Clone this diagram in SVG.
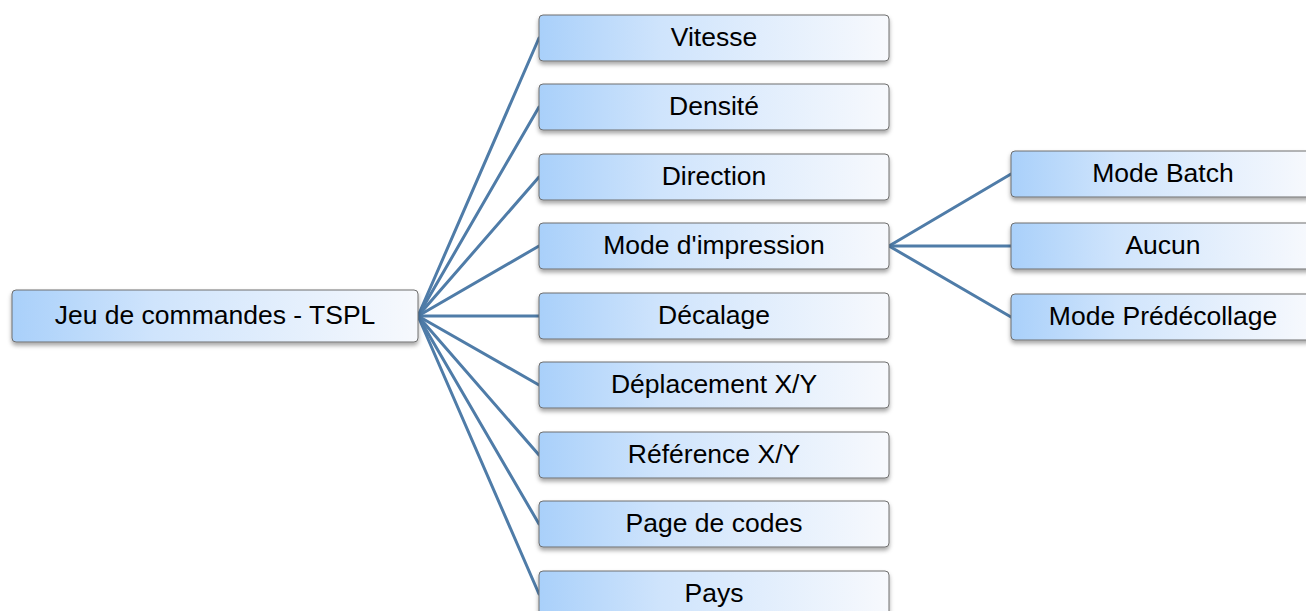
<svg xmlns="http://www.w3.org/2000/svg" width="1306" height="611" viewBox="0 0 1306 611">
<defs>
<linearGradient id="g" x1="0" y1="0" x2="1" y2="0">
<stop offset="0" stop-color="#a9d0fa"/>
<stop offset="0.35" stop-color="#cfe4fc"/>
<stop offset="1" stop-color="#f7f9fd"/>
</linearGradient>
<filter id="sh" x="-5%" y="-20%" width="110%" height="150%">
<feDropShadow dx="0" dy="3" stdDeviation="2" flood-color="#000" flood-opacity="0.35"/>
</filter>
</defs>
<style>
.n rect{fill:url(#g);stroke:#6f6f6f;stroke-width:1;filter:url(#sh)}
.n text{font-family:"Liberation Sans",Arial,sans-serif;font-size:26.5px;fill:#000;text-anchor:middle;dominant-baseline:central}
.c line{stroke:#4f7ca8;stroke-width:3;stroke-linecap:round}
</style>
<rect width="1306" height="611" fill="#fff"/>
<g class="c" id="connectors">
<line x1="418" y1="316" x2="539" y2="38"/>
<line x1="418" y1="316" x2="539" y2="107"/>
<line x1="418" y1="316" x2="539" y2="177"/>
<line x1="418" y1="316" x2="539" y2="246"/>
<line x1="418" y1="316" x2="539" y2="316"/>
<line x1="418" y1="316" x2="539" y2="385"/>
<line x1="418" y1="316" x2="539" y2="455"/>
<line x1="418" y1="316" x2="539" y2="524"/>
<line x1="418" y1="316" x2="539" y2="594"/>
<line x1="889" y1="246" x2="1011" y2="174"/>
<line x1="889" y1="246" x2="1011" y2="246"/>
<line x1="889" y1="246" x2="1011" y2="317"/>
</g>
<g class="n" id="root"><rect x="12" y="290" width="406" height="52" rx="4"/><text x="215" y="315">Jeu de commandes - TSPL</text></g>
<g class="n" id="vitesse"><rect x="539" y="15" width="350" height="46" rx="4"/><text x="714" y="37">Vitesse</text></g>
<g class="n" id="densite"><rect x="539" y="84" width="350" height="46" rx="4"/><text x="714" y="106">Densité</text></g>
<g class="n" id="direction"><rect x="539" y="154" width="350" height="46" rx="4"/><text x="714" y="176">Direction</text></g>
<g class="n" id="mode-impression"><rect x="539" y="223" width="350" height="46" rx="4"/><text x="714" y="245">Mode d'impression</text></g>
<g class="n" id="decalage"><rect x="539" y="293" width="350" height="46" rx="4"/><text x="714" y="315">Décalage</text></g>
<g class="n" id="deplacement"><rect x="539" y="362" width="350" height="46" rx="4"/><text x="714" y="384">Déplacement X/Y</text></g>
<g class="n" id="reference"><rect x="539" y="432" width="350" height="46" rx="4"/><text x="714" y="454">Référence X/Y</text></g>
<g class="n" id="page-codes"><rect x="539" y="501" width="350" height="46" rx="4"/><text x="714" y="523">Page de codes</text></g>
<g class="n" id="pays"><rect x="539" y="571" width="350" height="46" rx="4"/><text x="714" y="593">Pays</text></g>
<g class="n" id="mode-batch"><rect x="1011" y="151" width="300" height="46" rx="4"/><text x="1163" y="173">Mode Batch</text></g>
<g class="n" id="aucun"><rect x="1011" y="223" width="300" height="46" rx="4"/><text x="1163" y="245">Aucun</text></g>
<g class="n" id="mode-predecollage"><rect x="1011" y="294" width="300" height="46" rx="4"/><text x="1163" y="316">Mode Prédécollage</text></g>
</svg>
